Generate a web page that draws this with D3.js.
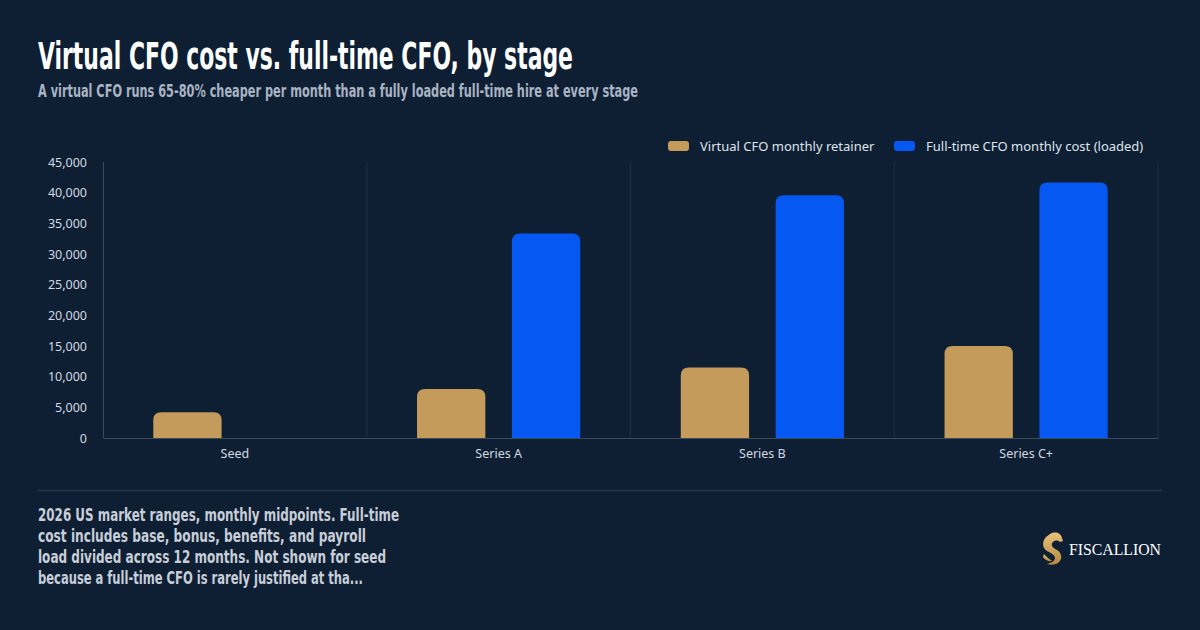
<!DOCTYPE html>
<html>
<head>
<meta charset="utf-8">
<script src="https://cdn.jsdelivr.net/npm/d3@7"></script>
<style>
  html, body { margin: 0; padding: 0; background: #0e1f34; }
  svg { display: block; }
</style>
</head>
<body>
<div id="chart"></div>
<script>

// Chart data
const stages = ["Seed", "Series A", "Series B", "Series C+"];
const seriesNames = ["Virtual CFO monthly retainer", "Full-time CFO monthly cost (loaded)"];
const virtualCfo = [4200, 8000, 11500, 15000];
const fullTimeCfo = [null, 33333, 39583, 41667];
const yTicks = [0, 5000, 10000, 15000, 20000, 25000, 30000, 35000, 40000, 45000];
const footnoteLines = [
  "2026 US market ranges, monthly midpoints. Full-time",
  "cost includes base, bonus, benefits, and payroll",
  "load divided across 12 months. Not shown for seed",
  "because a full-time CFO is rarely justified at tha..."
];

const width = 1200, height = 630;
const colors = ["#c49b5b", "#0558f1"];
const condensed = "'DejaVu Sans Condensed', 'Liberation Sans Narrow', 'DejaVu Sans', sans-serif";
const sans = "'Noto Sans', 'Open Sans', sans-serif";

const svg = d3.select("#chart").append("svg")
  .attr("width", width)
  .attr("height", height);

svg.append("rect").attr("width", width).attr("height", height).attr("fill", "#0e1f34");

// Title + subtitle
svg.append("text")
  .attr("x", 38).attr("y", 69)
  .attr("font-family", condensed).attr("font-weight", 700)
  .attr("font-size", 37).attr("fill", "#ffffff")
  .attr("textLength", 535).attr("lengthAdjust", "spacingAndGlyphs")
  .text("Virtual CFO cost vs. full-time CFO, by stage");

svg.append("text")
  .attr("x", 38).attr("y", 97)
  .attr("font-family", condensed).attr("font-weight", 700)
  .attr("font-size", 17).attr("fill", "#a9b4c3")
  .attr("textLength", 600).attr("lengthAdjust", "spacingAndGlyphs")
  .text("A virtual CFO runs 65-80% cheaper per month than a fully loaded full-time hire at every stage");

// Scales
const x0 = d3.scaleBand().domain(stages).range([103, 1158]).padding(0);
const x1 = d3.scaleBand().domain(seriesNames).range([0, x0.bandwidth()])
  .paddingInner(0.28).paddingOuter(0.53);
const y = d3.scaleLinear().domain([0, 45000]).range([438, 162]);

// Category separators
svg.append("g").selectAll("line")
  .data(stages)
  .join("line")
  .attr("x1", d => x0(d) + x0.bandwidth()).attr("x2", d => x0(d) + x0.bandwidth())
  .attr("y1", y(45000)).attr("y2", y(0))
  .attr("stroke", "#1f3045").attr("stroke-width", 1);

// Left axis line
svg.append("line")
  .attr("x1", 103.5).attr("x2", 103.5).attr("y1", y(45000)).attr("y2", y(0))
  .attr("stroke", "#3b4a5c").attr("stroke-width", 1);

// Y axis labels
const yAxis = svg.append("g")
  .attr("transform", "translate(87,0)")
  .call(d3.axisLeft(y).tickValues(yTicks).tickSize(0).tickPadding(0).tickFormat(d3.format(",")));
yAxis.select(".domain").remove();
yAxis.selectAll("text")
  .attr("font-family", sans).attr("font-size", 12.5).attr("fill", "#d2d8e0");

// X axis
const xAxis = svg.append("g")
  .attr("transform", `translate(0,${y(0)})`)
  .call(d3.axisBottom(x0).tickSize(0).tickPadding(11));
xAxis.select(".domain").attr("stroke", "#3b4a5c");
xAxis.selectAll("text")
  .attr("font-family", sans).attr("font-size", 12.5).attr("fill", "#d2d8e0");

// Bars with rounded top corners
function topRounded(x, yTop, w, h, r) {
  r = Math.min(r, h, w / 2);
  return `M${x},${yTop + h}V${yTop + r}Q${x},${yTop} ${x + r},${yTop}` +
    `H${x + w - r}Q${x + w},${yTop} ${x + w},${yTop + r}V${yTop + h}Z`;
}

const barData = [];
stages.forEach((s, i) => {
  [virtualCfo[i], fullTimeCfo[i]].forEach((v, k) => {
    if (v != null) barData.push({stage: s, series: seriesNames[k], value: v, k: k});
  });
});

svg.append("g").selectAll("path")
  .data(barData)
  .join("path")
  .attr("d", d => topRounded(x0(d.stage) + x1(d.series), y(d.value), x1.bandwidth(), y(0) - y(d.value), 8))
  .attr("fill", d => colors[d.k]);

// Legend
const legendPos = [668, 894];
const legend = svg.append("g").selectAll("g")
  .data(seriesNames)
  .join("g")
  .attr("transform", (d, i) => `translate(${legendPos[i]},141)`);
legend.append("rect")
  .attr("width", 21).attr("height", 10).attr("rx", 3)
  .attr("fill", (d, i) => colors[i]);
legend.append("text")
  .attr("x", 32).attr("y", 9.5)
  .attr("font-family", sans).attr("font-size", 13).attr("fill", "#dfe4ea")
  .text(d => d);

// Separator
svg.append("line")
  .attr("x1", 38).attr("x2", 1162).attr("y1", 490.5).attr("y2", 490.5)
  .attr("stroke", "#1f3347").attr("stroke-width", 2);

// Footnote
const footLengths = [361, 328, 348, 325];
svg.append("g").selectAll("text")
  .data(footnoteLines)
  .join("text")
  .attr("x", 38).attr("y", (d, i) => 521 + i * 21)
  .attr("font-family", condensed).attr("font-weight", 700)
  .attr("font-size", 18).attr("fill", "#c8ced8")
  .attr("textLength", (d, i) => footLengths[i]).attr("lengthAdjust", "spacingAndGlyphs")
  .text(d => d);

// Logo
const defs = svg.append("defs");
const grad = defs.append("linearGradient").attr("id", "gold")
  .attr("x1", 0).attr("y1", 0).attr("x2", 0).attr("y2", 1);
grad.append("stop").attr("offset", "0%").attr("stop-color", "#e6c27a");
grad.append("stop").attr("offset", "100%").attr("stop-color", "#b8893f");

const logo = svg.append("g").attr("transform", "translate(1041,532)");
logo.append("path")
  .attr("d", "M9,2 C14,-1 20,1 21,6 L22,9 L19,10 C17,8 14,8 12,10 C9,13 12,16 16,18 C21,21 22,27 17,31 C14,33 9,33 6,32 C10,31 14,29 14,26 C14,23 10,21 6,19 C1,16 1,9 5,5 Z")
  .attr("fill", "url(#gold)");
logo.append("path")
  .attr("d", "M3,22 C5,25 9,27 11,29 C8,30 4,28 2,25 Z")
  .attr("fill", "url(#gold)");

svg.append("text")
  .attr("x", 1069).attr("y", 554.5)
  .attr("font-family", "'Liberation Serif', 'DejaVu Serif', serif")
  .attr("font-size", 17.5).attr("fill", "#ffffff")
  .attr("textLength", 92).attr("lengthAdjust", "spacingAndGlyphs")
  .text("FISCALLION");

</script>
</body>
</html>
